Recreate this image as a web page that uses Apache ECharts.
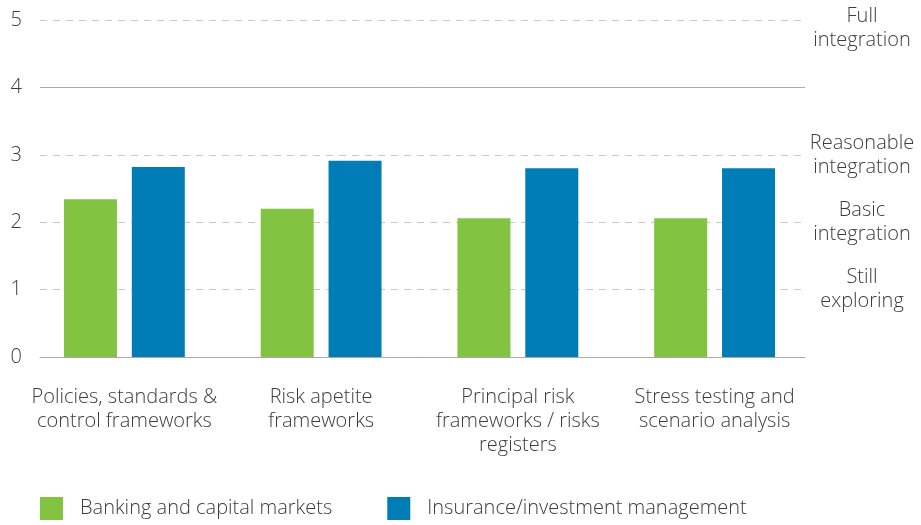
<!DOCTYPE html>
<html>
<head>
<meta charset="utf-8">
<script src="https://cdn.jsdelivr.net/npm/echarts@6/dist/echarts.min.js"></script>
<style>html,body{margin:0;padding:0;background:#fff;}#c{width:921px;height:525px;}</style>
</head>
<body>
<div id="c"></div>
<script>
var categories = [
  'Policies, standards &\ncontrol frameworks',
  'Risk apetite\nframeworks',
  'Principal risk\nframeworks / risks\nregisters',
  'Stress testing and\nscenario analysis'
];
var seriesNames = ['Banking and capital markets', 'Insurance/investment management'];
var banking = [2.34, 2.20, 2.06, 2.06];
var insurance = [2.82, 2.91, 2.80, 2.80];
var yTicks = [0, 1, 2, 3, 4, 5];
var scaleValues = [1, 2, 3];
var scaleLabels = ['Still\nexploring', 'Basic\nintegration', 'Reasonable\nintegration'];
var topScaleValue = [5];
var topScaleLabel = ['Full\nintegration'];

var font = '"Open Sans", sans-serif';
var txt = '#3c3c3c';
var fs = 20;
var chart = echarts.init(document.getElementById('c'));
chart.setOption({
  animation: false,
  grid: [
    { left: 40, right: 116, top: 20, bottom: 168 },
    { left: 26, right: 108, top: 20, bottom: 168 }
  ],
  legend: {
    left: 40, top: 497, padding: 0,
    itemWidth: 23, itemHeight: 23, itemGap: 55,
    icon: 'rect',
    textStyle: { fontFamily: font, fontSize: fs, fontWeight: 300, color: txt, padding: [0, 0, 0, 12] },
    data: seriesNames
  },
  xAxis: [
    { type: 'category', gridIndex: 0, data: categories, axisLabel: { show: false }, axisTick: { show: false },
      axisLine: { show: true, lineStyle: { color: '#aaaaaa', width: 1 } } },
    { type: 'category', gridIndex: 1, data: categories, axisTick: { show: false }, axisLine: { show: false },
      axisLabel: { interval: 0, margin: 28, fontFamily: font, fontSize: fs, fontWeight: 300, lineHeight: 24, color: txt } }
  ],
  yAxis: [
    { type: 'value', gridIndex: 0, min: 0, max: 5, interval: 1,
      axisLine: { show: false }, axisTick: { show: false },
      axisLabel: { margin: 18, fontFamily: font, fontSize: fs, fontWeight: 300, color: txt },
      splitLine: { show: true, lineStyle: { type: [7, 6], color: '#c8c8c8', width: 1 } } },
    { type: 'value', gridIndex: 1, min: 0, max: 5, interval: 1, show: false, splitLine: { show: false } },
    { type: 'value', gridIndex: 0, position: 'right', min: 0, max: 5,
      axisLine: { show: false }, axisTick: { show: false }, splitLine: { show: false },
      axisLabel: { customValues: scaleValues, margin: 57, align: 'center', fontFamily: font, fontSize: fs, fontWeight: 300, lineHeight: 24, color: txt,
        formatter: function (v) { var i = scaleValues.indexOf(v); return i >= 0 ? scaleLabels[i] : ''; } } },
    { type: 'value', gridIndex: 0, position: 'right', min: 0.12, max: 5.12,
      axisLine: { show: false }, axisTick: { show: false }, splitLine: { show: false },
      axisLabel: { customValues: topScaleValue, margin: 57, align: 'center', fontFamily: font, fontSize: fs, fontWeight: 300, lineHeight: 24, color: txt,
        formatter: function (v) { return v === 5 ? topScaleLabel[0] : ''; } } }
  ],
  series: [
    { name: seriesNames[0], type: 'bar', xAxisIndex: 1, yAxisIndex: 1, data: banking,
      barWidth: 53, barGap: '28%', itemStyle: { color: '#82C341' } },
    { name: seriesNames[1], type: 'bar', xAxisIndex: 1, yAxisIndex: 1, data: insurance,
      barWidth: 53, barGap: '28%', itemStyle: { color: '#007CB7' } },
    { name: 'ref', type: 'line', xAxisIndex: 0, yAxisIndex: 0, data: [null, null, null, null], symbol: 'none', silent: true,
      markLine: { silent: true, symbol: 'none', label: { show: false },
        lineStyle: { type: 'solid', color: '#aaaaaa', width: 1 }, data: [{ yAxis: 4 }] } }
  ]
});
</script>
</body>
</html>
